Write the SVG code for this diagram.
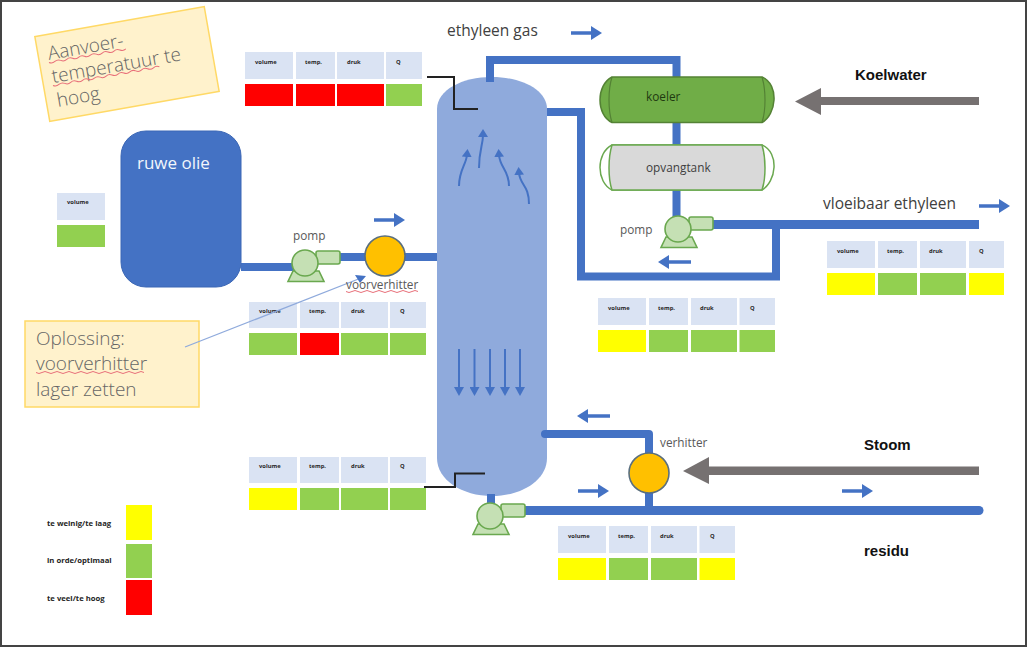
<svg xmlns="http://www.w3.org/2000/svg" width="1027" height="647" viewBox="0 0 1027 647">
<style>
text{font-family:"Open Sans","Liberation Sans",sans-serif;fill:#595959}
.h{fill:#dae3f3}.y{fill:#ffff00}.g{fill:#92d050}.r{fill:#ff0000}
.th{font-size:5.8px;font-weight:700;fill:#262626}
.lg{font-size:7.700px;font-weight:700;fill:#262626}
.lab{font-size:11.800px;fill:#595959}
.big{font-size:15.500px;fill:#404040}
.bold{font-family:"Liberation Sans",sans-serif;font-size:15px;font-weight:700;fill:#111}
.note{font-size:19px;font-weight:300;fill:#666}
.pipe{fill:none;stroke:#4472c4;stroke-width:8}
.flow{fill:none;stroke:#4472c4;stroke-width:3.500;marker-end:url(#ah)}
.thin{fill:none;stroke:#4472c4;stroke-width:2;marker-end:url(#as)}
.down{fill:none;stroke:#4472c4;stroke-width:2;marker-end:url(#an)}
.blk{fill:none;stroke:#222;stroke-width:2}
.sq{fill:none;stroke:#e8707a;stroke-width:1}
.pg{fill:#c5e0b4;stroke:#6aa84f;stroke-width:1.600}
.heat{fill:#ffc000;stroke:#5a6f7f;stroke-width:1.600}
.gar{fill:#767171}
</style>
<defs>
<marker id="ah" markerUnits="userSpaceOnUse" markerWidth="12" markerHeight="14" refX="1" refY="7" orient="auto"><path d="M0,0L11,7L0,14Z" fill="#4472c4"/></marker>
<marker id="as" markerUnits="userSpaceOnUse" markerWidth="8" markerHeight="10" refX="2" refY="5" orient="auto"><path d="M0,0L8,5L0,10Z" fill="#4472c4"/></marker>
<marker id="an" markerUnits="userSpaceOnUse" markerWidth="10" markerHeight="10" refX="4" refY="5" orient="auto"><path d="M0,0L9,5L0,10Z" fill="#4472c4"/></marker>
<g id="pumpshape">
<rect class="pg" x="11" y="-12" width="24" height="13" rx="2"/>
<path class="pg" d="M-12,8L-17,18.500H19L14,8Z"/>
<circle class="pg" r="13"/>
</g>
</defs>
<rect x="1" y="1" width="1025" height="645" fill="#fff" stroke="#444" stroke-width="2"/>

<g id="kolom"><path fill="#8faadc" d="M437,109C437,90 462,77 492,77C522,77 547,90 547,109V458C547,480 522,496 492,496C462,496 437,480 437,458Z"/></g>

<g id="note-aanvoer">
<g transform="rotate(-10 127 64)">
<rect x="41" y="21" width="172" height="86" fill="#fff2cc" stroke="#ffd966" stroke-width="1.500"/>
</g>
<text class="note" transform="translate(49 60) rotate(-10)">Aanvoer-</text>
<text class="note" transform="translate(53 83) rotate(-10)">temperatuur te</text>
<text class="note" transform="translate(58 107) rotate(-10)">hoog</text>
<path class="sq" transform="translate(49 62.500) rotate(-10)" d="M0,0q3,2 6,0t6,0t6,0t6,0t6,0t6,0t6,0t6,0t6,0t6,0t6,0t6,0t6,0"/>
<path class="sq" transform="translate(53 85.500) rotate(-10)" d="M0,0q3,2 6,0t6,0t6,0t6,0t6,0t6,0t6,0t6,0t6,0t6,0t6,0t6,0t6,0t6,0t6,0t6,0t6,0t6,0"/>
</g>

<g id="note-oplossing">
<rect x="25" y="321" width="174" height="86" fill="#fff2cc" stroke="#ffd966" stroke-width="1.500"/>
<text class="note" x="36" y="345">Oplossing:</text>
<text class="note" x="36" y="370">voorverhitter</text>
<text class="note" x="36" y="396">lager zetten</text>
<path class="sq" d="M36,372.500q3,2 6,0t6,0t6,0t6,0t6,0t6,0t6,0t6,0t6,0t6,0t6,0t6,0t6,0t6,0t6,0t6,0t6,0t6,0"/>
</g>

<g id="tabel-volume">
<rect class="h" x="57" y="193" width="48" height="27"/><rect class="g" x="57" y="225" width="48" height="22"/>
<text class="th" x="67" y="204">volume</text>
</g>
<g id="tabel-1">
<rect class="h" x="245" y="52" width="48" height="27"/><rect class="h" x="296" y="52" width="39" height="27"/><rect class="h" x="337" y="52" width="47" height="27"/><rect class="h" x="386" y="52" width="36" height="27"/>
<rect class="r" x="245" y="84" width="48" height="22"/><rect class="r" x="296" y="84" width="39" height="22"/><rect class="r" x="337" y="84" width="47" height="22"/><rect class="g" x="386" y="84" width="36" height="22"/>
<text class="th" x="255" y="64">volume</text><text class="th" x="305" y="64">temp.</text><text class="th" x="347" y="64">druk</text><text class="th" x="396" y="64">Q</text>
</g>
<g id="tabel-2">
<rect class="h" x="249" y="302" width="48" height="26"/><rect class="h" x="300" y="302" width="39" height="26"/><rect class="h" x="341" y="302" width="47" height="26"/><rect class="h" x="390" y="302" width="36" height="26"/>
<rect class="g" x="249" y="333" width="48" height="22"/><rect class="r" x="300" y="333" width="39" height="22"/><rect class="g" x="341" y="333" width="47" height="22"/><rect class="g" x="390" y="333" width="36" height="22"/>
<text class="th" x="259" y="313">volume</text><text class="th" x="309" y="313">temp.</text><text class="th" x="351" y="313">druk</text><text class="th" x="400" y="313">Q</text>
</g>
<g id="tabel-3">
<rect class="h" x="249" y="457" width="48" height="26"/><rect class="h" x="300" y="457" width="39" height="26"/><rect class="h" x="341" y="457" width="47" height="26"/><rect class="h" x="390" y="457" width="36" height="26"/>
<rect class="y" x="249" y="488" width="48" height="22"/><rect class="g" x="300" y="488" width="39" height="22"/><rect class="g" x="341" y="488" width="47" height="22"/><rect class="g" x="390" y="488" width="36" height="22"/>
<text class="th" x="259" y="468">volume</text><text class="th" x="309" y="468">temp.</text><text class="th" x="351" y="468">druk</text><text class="th" x="400" y="468">Q</text>
</g>
<g id="tabel-4">
<rect class="h" x="598" y="298" width="48" height="27"/><rect class="h" x="649" y="298" width="39" height="27"/><rect class="h" x="691" y="298" width="46" height="27"/><rect class="h" x="739.500" y="298" width="35.500" height="27"/>
<rect class="y" x="598" y="330" width="48" height="22"/><rect class="g" x="649" y="330" width="39" height="22"/><rect class="g" x="691" y="330" width="46" height="22"/><rect class="g" x="739.500" y="330" width="35.500" height="22"/>
<text class="th" x="608" y="310">volume</text><text class="th" x="658" y="310">temp.</text><text class="th" x="700" y="310">druk</text><text class="th" x="750" y="310">Q</text>
</g>
<g id="tabel-5">
<rect class="h" x="827" y="241" width="48" height="27"/><rect class="h" x="878" y="241" width="39" height="27"/><rect class="h" x="920" y="241" width="46" height="27"/><rect class="h" x="969" y="241" width="35" height="27"/>
<rect class="y" x="827" y="273" width="48" height="22"/><rect class="g" x="878" y="273" width="39" height="22"/><rect class="g" x="920" y="273" width="46" height="22"/><rect class="y" x="969" y="273" width="35" height="22"/>
<text class="th" x="837" y="253">volume</text><text class="th" x="887" y="253">temp.</text><text class="th" x="929" y="253">druk</text><text class="th" x="979" y="253">Q</text>
</g>
<g id="tabel-6">
<rect class="h" x="558" y="526" width="48" height="27"/><rect class="h" x="609" y="526" width="39" height="27"/><rect class="h" x="651" y="526" width="46" height="27"/><rect class="h" x="699.500" y="526" width="35.500" height="27"/>
<rect class="y" x="558" y="558" width="48" height="22"/><rect class="g" x="609" y="558" width="39" height="22"/><rect class="g" x="651" y="558" width="46" height="22"/><rect class="y" x="699.500" y="558" width="35.500" height="22"/>
<text class="th" x="568" y="538">volume</text><text class="th" x="618" y="538">temp.</text><text class="th" x="660" y="538">druk</text><text class="th" x="710" y="538">Q</text>
</g>

<g id="legenda">
<rect class="y" x="126" y="505" width="26" height="35"/><rect class="g" x="126" y="544" width="26" height="34"/><rect class="r" x="126" y="580" width="26" height="35"/>
<text class="lg" x="47" y="526">te weinig/te laag</text>
<text class="lg" x="47" y="563">in orde/optimaal</text>
<text class="lg" x="47" y="601">te veel/te hoog</text>
</g>

<g id="connectors">
<path class="pipe" d="M241,267H300"/>
<path class="pipe" d="M335,257H437"/>
<path class="pipe" d="M490,82V60H676.500V220"/>
<path class="pipe" d="M547,112H581V276.500H776V224"/>
<path class="pipe" style="stroke-width:9" d="M708,224.500H979"/>
<path class="pipe" style="stroke-linecap:round;stroke-linejoin:round" d="M545,434H649V510"/>
<path class="pipe" style="stroke-width:9;stroke-linecap:round" d="M520,510.500H979"/>
<path class="pipe" d="M491,494V506"/>
<path class="blk" d="M427,77H454V109H478"/>
<path class="blk" d="M424,487H455V473.500H485"/>
<path fill="none" stroke="#8faadc" stroke-width="1.300" d="M185,347L361,278"/>
<path d="M355,275L366,276L360,283Z" fill="#4472c4"/>
<path class="flow" d="M374,220H395"/>
<path class="flow" d="M571,33H592"/>
<path class="flow" d="M691,262H668"/>
<path class="flow" d="M979,206H1000"/>
<path class="flow" d="M610,416H587"/>
<path class="flow" d="M578,491H599"/>
<path class="flow" d="M842,491H863"/>
<path class="thin" d="M459,186C459,170 466,165 467,155"/>
<path class="thin" d="M479,168C479,150 483,145 483,135"/>
<path class="thin" d="M509,186C509,170 500,168 499,155"/>
<path class="thin" d="M529,204C529,185 520,185 519,173"/>
<path class="down" d="M459,349V391"/>
<path class="down" d="M474.500,349V391"/>
<path class="down" d="M490,349V391"/>
<path class="down" d="M505,349V391"/>
<path class="down" d="M520,349V391"/>
<path class="gar" d="M979,97H821V88L795,101.500L821,115V105H979Z"/>
<path class="gar" d="M979,466.500H709V457L683,471L709,484V475H979Z"/>
</g>

<g id="ruwe-olie">
<rect x="121" y="131" width="120" height="156" rx="25" fill="#4472c4" stroke="#3a66b5"/>
<text x="137" y="169" font-size="17" style="fill:#f2f6fc">ruwe olie</text>
</g>

<g id="pomp-1"><use href="#pumpshape" x="305" y="263"/><text class="lab" x="293" y="240">pomp</text></g>
<g id="voorverhitter"><circle class="heat" cx="385" cy="256" r="20"/><text class="lab" x="346" y="289">voorverhitter</text>
<path class="sq" d="M346,291.500q3,2 6,0t6,0t6,0t6,0t6,0t6,0t6,0t6,0t6,0t6,0t6,0t6,0"/></g>

<g id="koeler">
<path d="M612,77H762C780,85 776,115 762,122.500H612C596,115 596,85 612,77Z" fill="#70ad47" stroke="#548235" stroke-width="1.500"/>
<path d="M612,77C608,90 608,110 612,122.500M762,77C766,90 766,110 762,122.500" fill="none" stroke="#548235" stroke-width="1.200"/>
<text class="lab" x="646" y="101" style="fill:#1f3a10">koeler</text>
</g>
<g id="opvangtank">
<path d="M612,145H762C780,153 776,182 762,190H612C596,182 596,153 612,145Z" fill="#fff" stroke="#6aa84f" stroke-width="1.500"/>
<path d="M612,145H762C766,158 766,178 762,190H612C608,178 608,158 612,145Z" fill="#d9d9d9" stroke="#6aa84f" stroke-width="1.500"/>
<text class="lab" x="646" y="172" style="fill:#404040">opvangtank</text>
</g>
<g id="pomp-2"><use href="#pumpshape" x="678" y="229"/><text class="lab" x="620" y="234">pomp</text></g>
<g id="verhitter"><circle class="heat" cx="649" cy="473" r="20"/><text class="lab" x="660" y="447">verhitter</text></g>
<g id="pomp-3"><use href="#pumpshape" x="490" y="516"/></g>

<g id="labels">
<text class="big" x="447" y="36">ethyleen gas</text>
<text class="big" x="823" y="209">vloeibaar ethyleen</text>
<text class="bold" x="855" y="80">Koelwater</text>
<text class="bold" x="864" y="450">Stoom</text>
<text class="bold" x="864" y="556">residu</text>
</g>
</svg>
